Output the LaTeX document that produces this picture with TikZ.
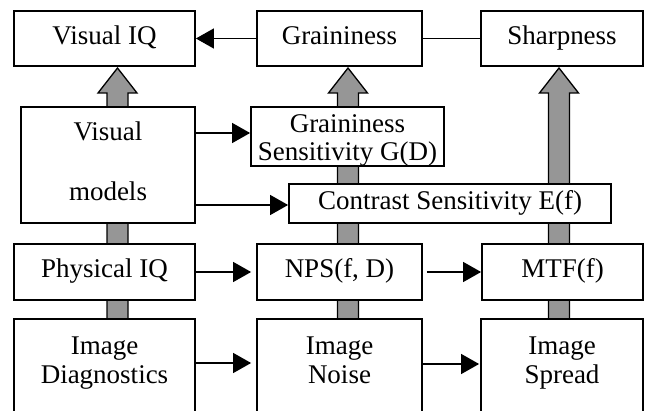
\documentclass[tikz,border=0pt]{standalone}
\usepackage{fontspec}
\setmainfont{Liberation Serif}
\usetikzlibrary{arrows.meta}
\definecolor{shaftgray}{RGB}{150,150,150}
\begin{document}
\begin{tikzpicture}[x=1pt,y=1pt,
  box/.style={draw, line width=1.8pt, fill=white, inner sep=0pt, align=center,
    font=\fontsize{27}{29}\selectfont},
  one/.style={text height=18.4pt, text depth=7pt},
  lbl/.style={inner sep=0pt, align=center, font=\fontsize{27}{29}\selectfont},
  flow/.style={line width=1.3pt, -{Triangle[length=18pt,width=20pt]}},
  link/.style={line width=1.3pt},
  fat/.style={draw, line width=1.3pt, fill=shaftgray, line join=miter}]
\useasboundingbox (0,0) rectangle (646,-411);
\clip (0,0) rectangle (646,-411);

% broad grey arrows running up behind the boxes
\foreach \cx in {117.5, 348, 559}{
  \draw[fat, shift={(\cx,0)}] (-10.5,-330) -- (-10.5,-93) -- (-19.5,-93)
    -- (0,-68) -- (19.5,-93) -- (10.5,-93) -- (10.5,-330) -- cycle;
}

% top row
\node[box, one, minimum width=181pt, minimum height=55pt] (viq) at (104.5,-38.5) {Visual IQ};
\node[box, one, minimum width=165pt, minimum height=55pt] (grain) at (339.5,-38.5) {Graininess};
\node[box, one, minimum width=162pt, minimum height=55pt] (sharp) at (562,-38.5) {Sharpness};

% visual models and sensitivities
\node[box, minimum width=174pt, minimum height=116pt] (vmod) at (108,-165) {};
\node[lbl] (vmodT) at (108,-161) {Visual\\[31pt]models};
\node[box, minimum width=193pt, minimum height=59pt] (gsens) at (347.5,-136.5) {};
\node[lbl, font=\fontsize{27}{28}\selectfont] (gsensT) at (347.5,-140) {Graininess\\Sensitivity G(D)};
\node[box, one, minimum width=322pt, minimum height=39pt] (csens) at (450,-203.5) {Contrast Sensitivity E(f)};

% physical measures
\node[box, one, minimum width=181pt, minimum height=56pt] (piq) at (104.5,-272) {Physical IQ};
\node[box, one, minimum width=165pt, minimum height=56pt] (nps) at (339.5,-272) {NPS(f, D)};
\node[box, one, minimum width=161pt, minimum height=56pt] (mtf) at (562.5,-272) {MTF(f)};

% image measurements (boxes run past the lower edge)
\node[box, minimum width=181pt, minimum height=111pt] (diag) at (104.5,-374.5) {};
\node[box, minimum width=165pt, minimum height=111pt] (noise) at (339.5,-374.5) {};
\node[box, minimum width=162pt, minimum height=111pt] (spread) at (562,-374.5) {};
\node[lbl, anchor=north] (diagT) at (104.5,-336.2) {Image\\Diagnostics};
\node[lbl, anchor=north] (noiseT) at (339.5,-336.2) {Image\\Noise};
\node[lbl, anchor=north] (spreadT) at (562,-336.2) {Image\\Spread};

% connectors
\draw[flow] (grain.west) -- (viq.east);
\draw[link] (grain.east) -- (sharp.west);
\draw[flow] (vmod.east |- 0,-133) -- (gsens.west |- 0,-133);
\draw[flow] (vmod.east |- 0,-205) -- (csens.west |- 0,-205);
\draw[flow, shorten >=5pt] (piq.east) -- (nps.west);
\draw[flow, shorten <=4pt] (nps.east) -- (mtf.west);
\draw[flow, shorten >=5pt] (diag.east |- 0,-363) -- (noise.west |- 0,-363);
\draw[flow, shorten >=1pt] (noise.east |- 0,-364) -- (spread.west |- 0,-364);
\end{tikzpicture}
\end{document}
